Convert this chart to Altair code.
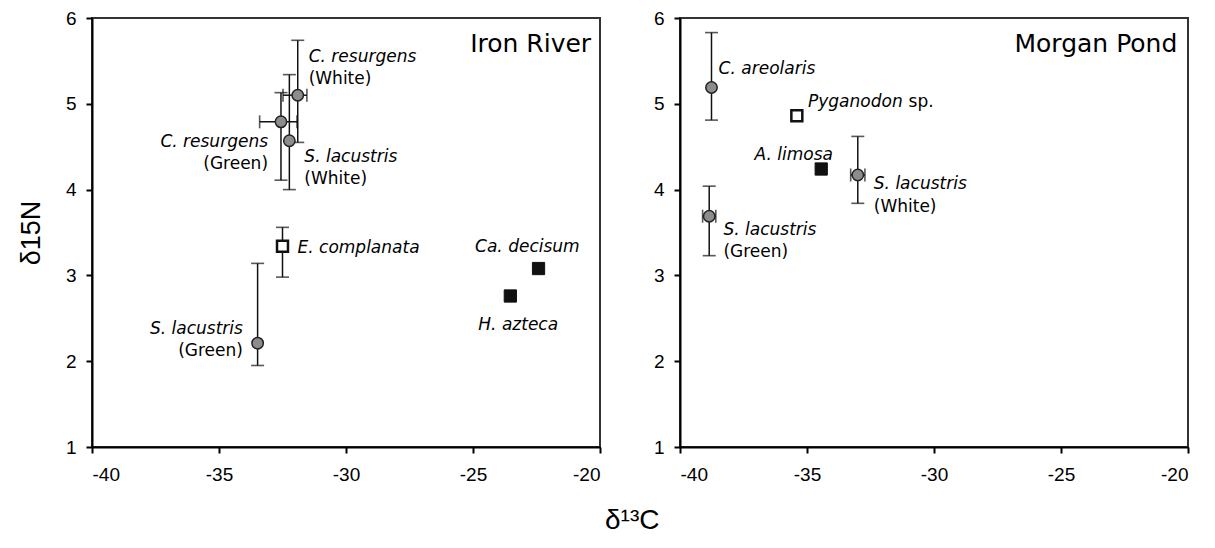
import altair as alt
import pandas as pd

# ---------------- Iron River ----------------
ir_species = ["C. resurgens (White)", "C. resurgens (Green)", "S. lacustris (White)",
              "E. complanata", "S. lacustris (Green)", "Ca. decisum", "H. azteca"]
ir_kind = ["circle", "circle", "circle", "open", "circle", "filled", "filled"]
ir_d13c = [-31.90, -32.56, -32.23, -32.50, -33.48, -22.42, -23.53]
ir_d15n = [5.10, 4.79, 4.57, 3.34, 2.21, 3.08, 2.76]
ir_n_lo = [4.55, 4.11, 4.00, 2.98, 1.95, None, None]
ir_n_hi = [5.74, 5.13, 5.34, 3.56, 3.14, None, None]
ir_c_lo = [-32.48, -33.40, None, None, None, None, None]
ir_c_hi = [-31.54, -31.93, None, None, None, None, None]

ir_lab_text = ["C. resurgens", "(White)", "C. resurgens", "(Green)", "S. lacustris", "(White)",
               "E. complanata", "Ca. decisum", "H. azteca", "S. lacustris", "(Green)"]
ir_lab_style = ["italic", "normal", "italic", "normal", "italic", "normal",
                "italic", "italic", "italic", "italic", "normal"]
ir_lab_align = ["left", "left", "right", "right", "left", "left",
                "left", "center", "center", "right", "right"]
ir_lab_x = [-31.47, -31.47, -33.07, -33.07, -31.64, -31.64, -31.91, -22.86, -23.22, -34.06, -34.06]
ir_lab_y = [5.485, 5.233, 4.497, 4.236, 4.322, 4.070, 3.260, 3.267, 2.369, 2.318, 2.066]

# ---------------- Morgan Pond ----------------
mp_species = ["C. areolaris", "Pyganodon sp.", "A. limosa", "S. lacustris (White)", "S. lacustris (Green)"]
mp_kind = ["circle", "open", "filled", "circle", "circle"]
mp_d13c = [-38.76, -35.40, -34.44, -33.00, -38.85]
mp_d15n = [5.19, 4.86, 4.24, 4.17, 3.69]
mp_n_lo = [4.81, None, None, 3.84, 3.23]
mp_n_hi = [5.83, None, None, 4.62, 4.04]
mp_c_lo = [None, None, None, -33.28, -39.11]
mp_c_hi = [None, None, None, -32.72, -38.59]

mp_lab_text = ["C. areolaris", "Pyganodon", "sp.", "A. limosa", "S. lacustris", "(White)",
               "S. lacustris", "(Green)"]
mp_lab_style = ["italic", "italic", "normal", "italic", "italic", "normal", "italic", "normal"]
mp_lab_align = ["left", "left", "left", "right", "left", "left", "left", "left"]
mp_lab_x = [-38.48, -34.96, -31.00, -33.98, -32.37, -32.37, -38.29, -38.29]
mp_lab_y = [5.352, 4.965, 4.965, 4.350, 4.004, 3.740, 3.469, 3.209]

panel_titles = ["Iron River", "Morgan Pond"]
title_x = [-20.35, -20.42]
title_y = [5.605, 5.605]

LABEL_FONT = "DejaVu Sans"
AXIS_FONT = "Liberation Sans"

xs = alt.Scale(domain=[-40, -20], nice=False, zero=False)
ys = alt.Scale(domain=[1, 6], nice=False, zero=False)


def make_panel(species, kind, c, n, nlo, nhi, clo, chi,
               ltext, lstyle, lalign, lx, ly, ptitle, tx, ty, ytitle):
    pts = pd.DataFrame({"species": species, "kind": kind, "c": c, "n": n,
                        "nlo": nlo, "nhi": nhi, "clo": clo, "chi": chi})
    labs = pd.DataFrame({"text": ltext, "style": lstyle, "align": lalign, "x": lx, "y": ly})
    ykw = dict(values=[1, 2, 3, 4, 5, 6], labelExpr="toString(datum.value)", labelPadding=10)
    if ytitle:
        yaxis = alt.Axis(title=ytitle, titleFont=AXIS_FONT, titleFontSize=27, titleFontWeight="normal",
                         titleColor="black", titlePadding=20, **ykw)
    else:
        yaxis = alt.Axis(title=None, **ykw)
    xaxis = alt.Axis(values=[-40, -35, -30, -25, -20], labelExpr="toString(datum.value)",
                     labelPadding=12, title=None)
    X = alt.X("c:Q", scale=xs, axis=xaxis)
    Y = alt.Y("n:Q", scale=ys, axis=yaxis)

    base = alt.Chart(pts)
    layers = []
    # vertical error bars
    ev = base.transform_filter("isValid(datum.nlo)")
    layers.append(ev.mark_rule(color="#111", strokeWidth=1.5).encode(x=X, y=alt.Y("nlo:Q", scale=ys, axis=yaxis), y2="nhi:Q"))
    layers.append(ev.mark_tick(orient="horizontal", size=13, thickness=1.6, color="#111").encode(x=X, y=alt.Y("nlo:Q", scale=ys, axis=yaxis)))
    layers.append(ev.mark_tick(orient="horizontal", size=13, thickness=1.6, color="#111").encode(x=X, y=alt.Y("nhi:Q", scale=ys, axis=yaxis)))
    # horizontal error bars
    eh = base.transform_filter("isValid(datum.clo)")
    layers.append(eh.mark_rule(color="#111", strokeWidth=1.5).encode(x=alt.X("clo:Q", scale=xs, axis=xaxis), x2="chi:Q", y=Y))
    layers.append(eh.mark_tick(orient="vertical", size=13, thickness=1.6, color="#111").encode(x=alt.X("clo:Q", scale=xs, axis=xaxis), y=Y))
    layers.append(eh.mark_tick(orient="vertical", size=13, thickness=1.6, color="#111").encode(x=alt.X("chi:Q", scale=xs, axis=xaxis), y=Y))
    # points
    layers.append(base.transform_filter("datum.kind == 'circle'").mark_point(
        shape="circle", filled=True, fill="#8c8c8c", stroke="#222", strokeWidth=1.5, size=130, opacity=1
    ).encode(x=X, y=Y))
    layers.append(base.transform_filter("datum.kind == 'open'").mark_point(
        shape="square", filled=True, fill="white", stroke="#111", strokeWidth=2.5, size=120, opacity=1
    ).encode(x=X, y=Y))
    layers.append(base.transform_filter("datum.kind == 'filled'").mark_point(
        shape="square", filled=True, fill="#111", stroke="#111", strokeWidth=1, size=150, opacity=1
    ).encode(x=X, y=Y))
    # labels
    lbase = alt.Chart(labs)
    for st in ["italic", "normal"]:
        for al in ["left", "right", "center"]:
            sub = labs[(labs["style"] == st) & (labs["align"] == al)]
            if len(sub) == 0:
                continue
            layers.append(lbase.transform_filter(
                f"datum.style == '{st}' && datum.align == '{al}'"
            ).mark_text(align=al, baseline="alphabetic", font=LABEL_FONT, fontSize=17,
                        fontStyle=st, color="black").encode(
                x=alt.X("x:Q", scale=xs, axis=xaxis), y=alt.Y("y:Q", scale=ys, axis=yaxis), text="text:N"))
    tdf = pd.DataFrame({"t": [ptitle], "x": [tx], "y": [ty]})
    layers.append(alt.Chart(tdf).mark_text(align="right", baseline="alphabetic", font=LABEL_FONT,
                                           fontSize=25, color="black").encode(
        x=alt.X("x:Q", scale=xs, axis=xaxis), y=alt.Y("y:Q", scale=ys, axis=yaxis), text="t:N"))
    return alt.layer(*layers).properties(width=508, height=429)


left = make_panel(ir_species, ir_kind, ir_d13c, ir_d15n, ir_n_lo, ir_n_hi, ir_c_lo, ir_c_hi,
                  ir_lab_text, ir_lab_style, ir_lab_align, ir_lab_x, ir_lab_y,
                  panel_titles[0], title_x[0], title_y[0], "δ15N")
right = make_panel(mp_species, mp_kind, mp_d13c, mp_d15n, mp_n_lo, mp_n_hi, mp_c_lo, mp_c_hi,
                   mp_lab_text, mp_lab_style, mp_lab_align, mp_lab_x, mp_lab_y,
                   panel_titles[1], title_x[1], title_y[1], None)

chart = alt.hconcat(left, right, spacing=50).properties(
    title=alt.TitleParams("δ¹³C", orient="bottom", anchor="middle", font=AXIS_FONT,
                          fontSize=28, fontWeight="normal", color="black", offset=22, dx=29),
    padding={"left": 8, "top": 0, "right": 5, "bottom": 5},
).configure_view(stroke="#333", strokeWidth=2).configure_axis(
    domainColor="black", domainWidth=2, tickColor="black", tickWidth=2, tickSize=6,
    labelFont=AXIS_FONT, labelFontSize=19, labelColor="black", grid=False
)

chart.save("out.html", embed_options={"renderer": "svg", "actions": False})
